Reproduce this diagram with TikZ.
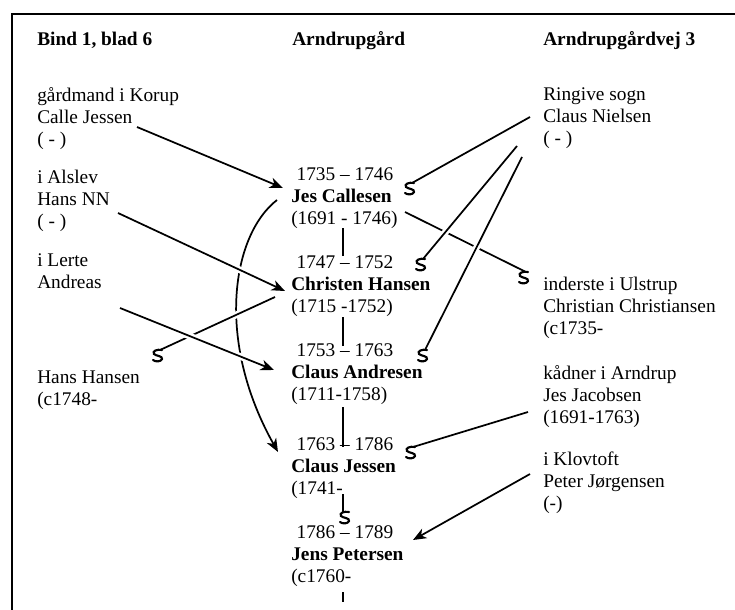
\documentclass[tikz,border=0pt]{standalone}
\usepackage{fontspec}
\setmainfont{Liberation Serif}
\usetikzlibrary{arrows.meta}

\tikzset{
  entry/.style={anchor=north west, align=left, inner sep=0pt, font=\fontsize{14.5}{16.5}\selectfont, execute at begin node=\strut},
  heading/.style={entry, font=\fontsize{14.5}{16.5}\selectfont\bfseries},
  link/.style={line width=1.3pt},
  arr/.style={link, -{Stealth[length=10pt,width=8pt,inset=3pt]}},
  gap/.style={preaction={draw, white, line width=5pt, -}},
  smark/.pic={\draw[line width=1.6pt, line cap=round] (2,0) .. controls (-3,-1) and (-8,1) .. (-6,4) .. controls (-4,6) and (3,6) .. (2,9) .. controls (1,12) and (-5,12) .. (-7,10);}
}

\begin{document}
\begin{tikzpicture}[x=0.75pt,y=-0.75pt]
	\useasboundingbox (0,0) rectangle (735,610);
	\draw[line width=1.3pt] (735,14) -- (12,14) -- (12,610);

	\node[heading] (bind) at (37,30) {Bind 1, blad 6};
	\node[heading] (gaard) at (292,30) {Arndrupgård};
	\node[heading] (vej) at (543,30) {Arndrupgårdvej 3};

	\node[entry] (korup) at (37,87) {gårdmand i Korup\\Calle Jessen\\( - )};
	\node[entry] (alslev) at (37,170) {i Alslev\\Hans NN\\( - )};
	\node[entry] (lerte) at (37,253) {i Lerte\\Andreas};
	\node[entry] (hhansen) at (37,371) {Hans Hansen\\(c1748-};

	\node[entry] (jc) at (291,167) {\hspace*{4pt}1735 – 1746\\\textbf{Jes Callesen}\\(1691 - 1746)};
	\node[entry] (ch) at (291,255) {\hspace*{4pt}1747 – 1752\\\textbf{Christen Hansen}\\(1715 -1752)};
	\node[entry] (ca) at (291,343) {\hspace*{4pt}1753 – 1763\\\textbf{Claus Andresen}\\(1711-1758)};
	\node[entry] (cj) at (291,437) {\hspace*{4pt}1763 – 1786\\\textbf{Claus Jessen}\\(1741-};
	\node[entry] (jp) at (291,525) {\hspace*{4pt}1786 – 1789\\\textbf{Jens Petersen}\\(c1760-};

	\node[entry] (ringive) at (543,87) {Ringive sogn\\Claus Nielsen\\( - )};
	\node[entry] (ulstrup) at (543,277) {inderste i Ulstrup\\Christian Christiansen\\(c1735-};
	\node[entry] (kadner) at (543,365) {kådner i Arndrup\\Jes Jacobsen\\(1691-1763)};
	\node[entry] (klovtoft) at (543,452) {i Klovtoft\\Peter Jørgensen\\(-)};

	\coordinate (korupout) at (137,127);
	\coordinate (alslevout) at (118,213);
	\coordinate (lerteout) at (120,308);
	\coordinate (jcin) at (283,188);
	\coordinate (chin) at (285,291);
	\coordinate (cain) at (274,370);
	\coordinate (jcleft) at (277,200);
	\coordinate (cjin) at (278,452);
	\coordinate (chout) at (275,297);
	\coordinate (hhin) at (160,350);
	\coordinate (nielsenA) at (530,117);
	\coordinate (nielsenB) at (517,146);
	\coordinate (nielsenC) at (522,157);
	\coordinate (jcright) at (412,183);
	\coordinate (chright) at (423,259);
	\coordinate (caright) at (425,350);
	\coordinate (jcout) at (405,212);
	\coordinate (ulstrupin) at (526,272);
	\coordinate (jacobout) at (528,412);
	\coordinate (cjright) at (413,447);
	\coordinate (peterout) at (530,474);
	\coordinate (jpin) at (413,540);

	\foreach \a/\b in {228/256, 317/346, 407/447, 494/512, 592/602}
	{
		\draw[link] (343,\a) -- (343,\b);
	}
	\pic at (347,512) {smark};

	\draw[arr] (jcleft) .. controls (232,235) and (215,340) .. (cjin);
	\draw[link, gap] (chout) -- (hhin);
	\pic at (hhin) {smark};
	\draw[arr, gap] (lerteout) -- (cain);
	\draw[arr, gap] (alslevout) -- (chin);
	\draw[arr] (korupout) -- (jcin);

	\draw[link] (jcout) -- (ulstrupin);
	\pic at (ulstrupin) {smark};
	\draw[link] (nielsenA) -- (jcright);
	\pic at (jcright) {smark};
	\draw[link, gap] (nielsenB) -- (chright);
	\pic at (chright) {smark};
	\draw[link, gap] (nielsenC) -- (caright);
	\pic at (caright) {smark};
	\draw[link] (jacobout) -- (cjright);
	\pic at (cjright) {smark};
	\draw[arr] (peterout) -- (jpin);
\end{tikzpicture}
\end{document}
